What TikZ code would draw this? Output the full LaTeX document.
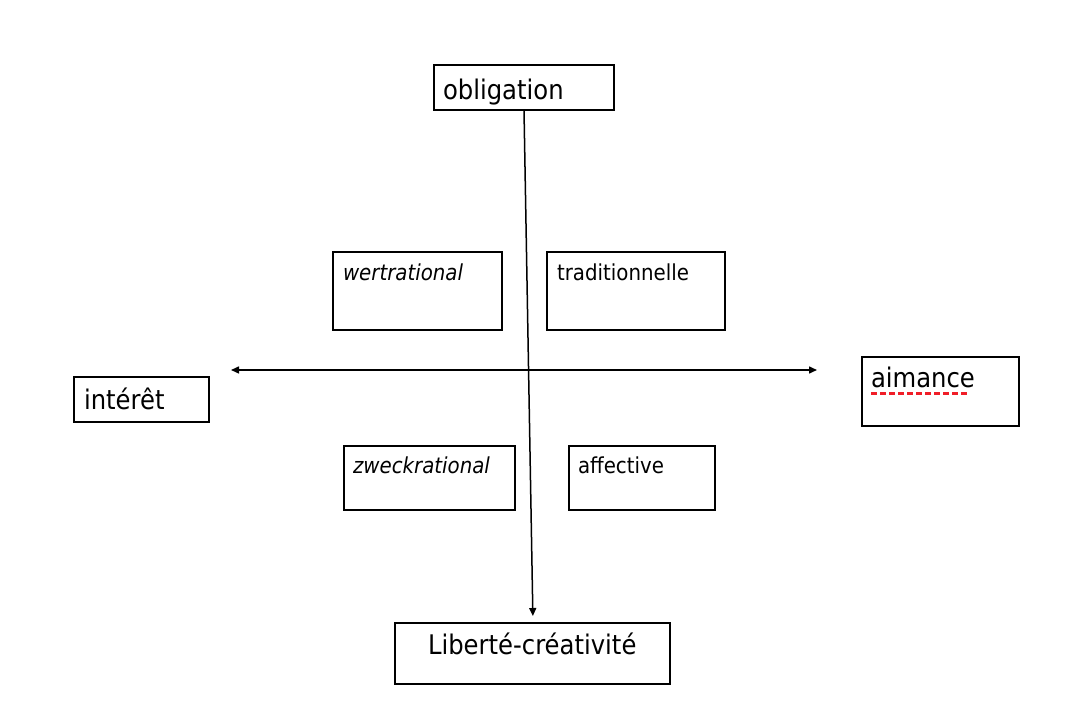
\documentclass[tikz,border=0pt]{standalone}
\usepackage{fontspec}
\setmainfont{DejaVu Sans}[FakeStretch=0.9]
\usetikzlibrary{arrows.meta}
\definecolor{spellred}{RGB}{240,30,40}
\tikzset{
  box/.style={draw, line width=2pt, anchor=north west, align=left, inner ysep=0pt, outer sep=0pt},
  bigtxt/.style={font=\fontsize{27}{30}\selectfont},
  smalltxt/.style={font=\fontsize{22}{26}\selectfont},
  arr/.style={line width=1.5pt, -{Triangle[length=8pt,width=7pt]}},
  darr/.style={line width=1.5pt, {Triangle[length=8pt,width=7pt]}-{Triangle[length=8pt,width=7pt]}}
}
\begin{document}
\begin{tikzpicture}[x=1pt,y=-1pt]
\useasboundingbox (0,0) rectangle (1080,708);
\node[box,bigtxt,inner xsep=9pt,text width=162pt,text height=35pt,text depth=10pt] (obl) at (434,65) {obligation};
\node[box,smalltxt,inner xsep=10pt,text width=149pt,text height=29pt,text depth=49pt] (wert) at (333,252) {\mbox{\itshape wertrational}};
\node[box,smalltxt,inner xsep=10pt,text width=158pt,text height=29pt,text depth=49pt] (trad) at (547,252) {\mbox{traditionnelle}};
\node[box,bigtxt,inner xsep=10pt,text width=115pt,text height=33pt,text depth=12pt] (int) at (74,377) {\mbox{intérêt}};
\node[box,bigtxt,inner xsep=9pt,text width=139pt,text height=31pt,text depth=38pt] (aim) at (862,357) {\mbox{aimance}};
\node[box,smalltxt,inner xsep=9pt,text width=153pt,text height=28pt,text depth=36pt] (zweck) at (344,446) {\mbox{\itshape zweckrational}};
\node[box,smalltxt,inner xsep=9pt,text width=128pt,text height=28pt,text depth=36pt] (aff) at (569,446) {\mbox{affective}};
\node[box,bigtxt,inner xsep=9pt,text width=257pt,text height=31pt,text depth=30pt] (lib) at (395,623) {\hspace*{24pt}\mbox{Liberté-créativité}};
% spell-check underline
\coordinate (ul1) at (871,394);
\coordinate (ul2) at (967,394);
\draw[spellred, line width=3pt, dash pattern=on 6pt off 3pt] (ul1) -- (ul2);
% axes
\coordinate (hl) at (231,370);
\coordinate (hr) at (817,370);
\draw[darr] (hl) -- (hr);
\draw[arr, shorten >=7pt] (obl.south) -- ([xshift=0.5pt]lib.north);
\end{tikzpicture}
\end{document}
